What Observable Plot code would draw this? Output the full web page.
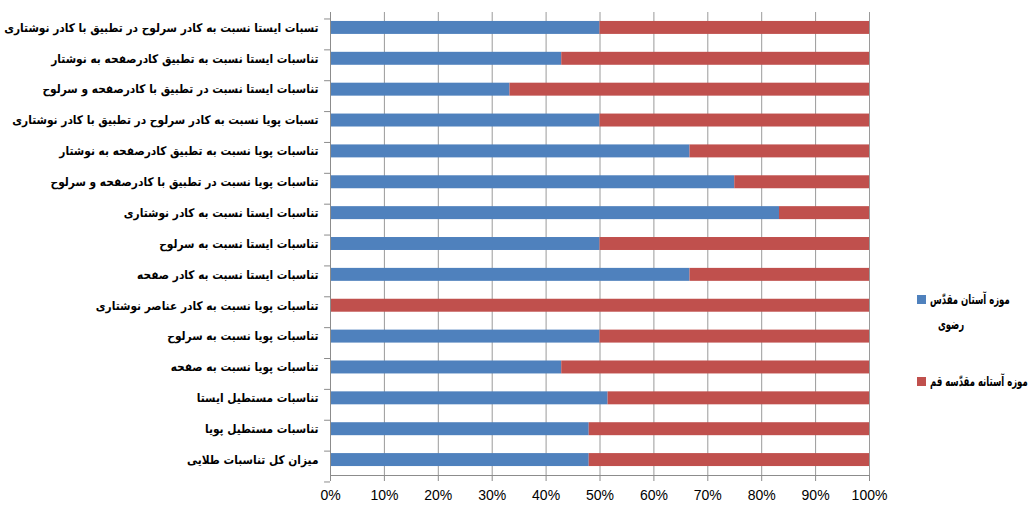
<!DOCTYPE html>
<html>
<head>
<meta charset="utf-8">
<script src="https://cdn.jsdelivr.net/npm/d3@7"></script>
<script src="https://cdn.jsdelivr.net/npm/@observablehq/plot@0.6"></script>
<style>
  body { margin: 0; background: #fff; }
  #wrap { position: relative; width: 1035px; height: 513px; overflow: hidden; }
  .legend { position: absolute; font-family: "DejaVu Sans Condensed", "DejaVu Sans", sans-serif; font-weight: bold; font-size: 13.5px; color: #000; white-space: nowrap; }
  .legend .sw { display: inline-block; width: 9px; height: 9px; margin-right: 4px; vertical-align: middle; }
  .legend .tx { display: inline-block; transform: scaleX(0.7); transform-origin: left center; vertical-align: middle; }
</style>
</head>
<body>
<div id="wrap"></div>
<script>
const categories = [
  "تسبات ایستا نسبت به کادر سرلوح در تطبیق با کادر نوشتاری",
  "تناسبات ایستا نسبت به تطبیق کادرصفحه به نوشتار",
  "تناسبات ایستا نسبت در تطبیق با کادرصفحه و سرلوح",
  "تسبات پویا نسبت به کادر سرلوح در تطبیق با کادر نوشتاری",
  "تناسبات پویا نسبت به تطبیق کادرصفحه به نوشتار",
  "تناسبات پویا نسبت در تطبیق با کادرصفحه و سرلوح",
  "تناسبات ایستا نسبت به کادر نوشتاری",
  "تناسبات ایستا نسبت به سرلوح",
  "تناسبات ایستا نسبت به کادر صفحه",
  "تناسبات پویا نسبت به کادر عناصر نوشتاری",
  "تناسبات پویا نسبت به سرلوح",
  "تناسبات پویا نسبت به صفحه",
  "تناسبات مستطیل ایستا",
  "تناسبات مستطیل پویا",
  "میزان کل تناسبات طلایی"
];
const seriesNames = ["موزه آستان مقدّس رضوی", "موزه آستانه مقدّسه قم"];
const razaviShare = [50, 42.9, 33.3, 50, 66.7, 75, 83.3, 50, 66.7, 0, 50, 42.9, 51.5, 48, 48];
const qomShare = [50, 57.1, 66.7, 50, 33.3, 25, 16.7, 50, 33.3, 100, 50, 57.1, 48.5, 52, 52];
const xTicks = [0, 10, 20, 30, 40, 50, 60, 70, 80, 90, 100];
const colors = ["#4F81BD", "#C0504D"];

const rows = [];
categories.forEach((c, i) => {
  rows.push({cat: c, series: seriesNames[0], value: razaviShare[i]});
  rows.push({cat: c, series: seriesNames[1], value: qomShare[i]});
});

const W = 1035, H = 513, mT = 12, mB = 38, mL = 330, mR = 166;
const pInner = 0.58, pOuter = 0.29;
const step = (H - mT - mB) / categories.length;

const chart = Plot.plot({
  width: W, height: H,
  marginTop: mT, marginBottom: mB, marginLeft: mL, marginRight: mR,
  style: {fontFamily: "DejaVu Sans Condensed, DejaVu Sans, sans-serif", background: "#fff"},
  x: {domain: [0, 100]},
  y: {domain: categories, paddingInner: pInner, paddingOuter: pOuter, round: false, label: null},
  color: {domain: seriesNames, range: colors},
  marks: [
    Plot.gridX(xTicks, {stroke: "#9a9a9a", strokeOpacity: 1, strokeWidth: 1}),
    Plot.barX(rows, Plot.stackX({y: "cat", x: "value", fill: "series", order: seriesNames})),
    Plot.ruleX([0], {stroke: "#8c8c8c"}),
    Plot.frame({anchor: "bottom", stroke: "#8c8c8c"}),
    Plot.axisX(xTicks, {tickSize: 6, tickPadding: 9, stroke: "#8c8c8c", fontSize: 14, fill: "#000",
      tickFormat: d => d + "%", label: null, fontFamily: "Liberation Sans Narrow, Liberation Sans, sans-serif"}),
    Plot.axisY({tickSize: 0, tickPadding: 12, fontSize: 11.8, fontWeight: "bold", fill: "#000", label: null}),
    Plot.ruleY(categories, {y: d => d, x1: -1.1, x2: 0, dy: step * (1 - pOuter), stroke: "#8c8c8c"}),
    Plot.ruleY(categories.slice(0, 1), {y: d => d, x1: -1.1, x2: 0, dy: -step * pOuter, stroke: "#8c8c8c"})
  ]
});
const wrap = document.getElementById("wrap");
wrap.appendChild(chart);

const lg1 = document.createElement("div");
lg1.className = "legend";
lg1.style.left = "917px"; lg1.style.top = "286px"; lg1.style.lineHeight = "25px";
lg1.innerHTML = `<span class="sw" style="background:${colors[0]}"></span><span class="tx" dir="rtl">موزه آستان مقدّس</span><br><span class="tx" style="padding-left:30px" dir="rtl">رضوی</span>`;
wrap.appendChild(lg1);
const lg2 = document.createElement("div");
lg2.className = "legend";
lg2.style.left = "917px"; lg2.style.top = "372px";
lg2.innerHTML = `<span class="sw" style="background:${colors[1]}"></span><span class="tx" dir="rtl">${seriesNames[1]}</span>`;
wrap.appendChild(lg2);
</script>
</body>
</html>
